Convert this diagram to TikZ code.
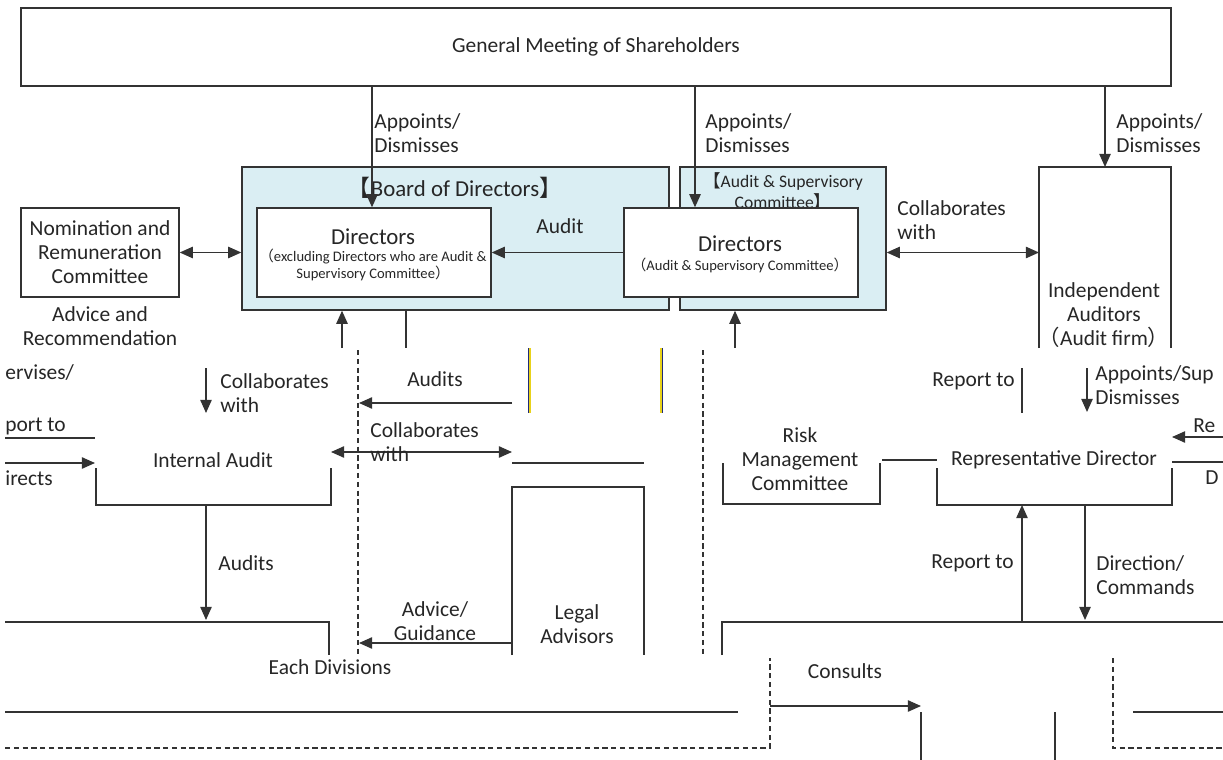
\documentclass[tikz,border=0pt]{standalone}
\usepackage{fontspec}
\setmainfont{Carlito}
\newfontfamily\cjk{Noto Sans CJK JP}
\usetikzlibrary{arrows.meta,fit,positioning}
\definecolor{boardblue}{HTML}{DAEEF3}
\definecolor{linec}{HTML}{333333}
\definecolor{txt}{HTML}{262626}
\definecolor{fringe}{HTML}{1F2A7A}
\definecolor{gold}{HTML}{E8D21A}
\newcommand{\notetxt}{\fontsize{8.3}{9.4}\selectfont}
\newcommand{\headtxt}{\fontsize{13}{15}\selectfont}

\begin{document}
\begin{tikzpicture}[x=0.02cm,y=-0.02cm,
  font=\fontsize{12.2}{13.6}\selectfont,
  box/.style={draw=linec,fill=white,line width=0.8pt,inner sep=0pt,align=center,text=txt},
  panel/.style={draw=linec,fill=boardblue,line width=0.8pt,inner sep=0pt},
  lbl/.style={inner sep=0pt,text=txt,align=left},
  wire/.style={draw=linec,line width=0.8pt},
  arr/.style={wire,-{Triangle[length=7.5pt,width=6.5pt]}},
  both/.style={wire,{Triangle[length=7.5pt,width=6.5pt]}-{Triangle[length=7.5pt,width=6.5pt]}},
  cut/.style={draw=linec,line width=0.6pt,dash pattern=on 3pt off 2pt}]

\useasboundingbox (0,0) rectangle (1223,760);

% top: shareholders, board and committees
\node[box,fit={(21,8) (1171,86)}] (gms) {};
\node[lbl] (gmstext) at (gms.center) {General Meeting of Shareholders};
\node[panel,fit={(242,167) (669,310)}] (board) {};
\node[panel,fit={(680,167) (886,310)}] (ascom) {};
\node[lbl] (boardtitle) at (455,188) {\headtxt{\cjk 【}Board of Directors{\cjk 】}};
\node[lbl,align=center,font=\fontsize{10}{12}\selectfont] (astitle) at (783,191) {{\cjk 【}Audit \& Supervisory\\Committee{\cjk 】}};
\node[box,fit={(257,208) (491,297)}] (dirs) {};
\node[lbl] (dirshead) at (373,237) {\headtxt Directors};
\node[lbl,align=center,font=\notetxt] (dirsnote) at (373,265) {{\cjk （}excluding Directors who are Audit \&\\Supervisory Committee{\cjk ）}};
\node[box,fit={(624,208) (858,297)}] (asdirs) {};
\node[lbl] (asdirshead) at (740,244) {\headtxt Directors};
\node[lbl,font=\notetxt] (asdirsnote) at (740,265) {{\cjk （}Audit \& Supervisory Committee{\cjk ）}};
\node[box,fit={(21,208) (179,297)}] (nrc) {};
\node[lbl,align=center] (nrctext) at (nrc.center) {Nomination and\\Remuneration\\Committee};
\node[lbl,align=center] (advice) at (100,326) {Advice and\\Recommendation};
\node[inner sep=0pt,outer sep=0pt,fit={(1039,167) (1171,348)}] (iabox) {};
\node[lbl,align=center] (iatext) at (1104,315) {Independent\\Auditors\\{\cjk （}Audit firm{\cjk ）}};
\draw[wire] (iabox.south west) -- (iabox.north west) -- (iabox.north east) -- (iabox.south east);

\draw[arr] (gms.south -| 372,0) -- (dirs.north -| 372,0);
\node[lbl,anchor=west] at (374,133) {Appoints/\\Dismisses};
\draw[arr] (gms.south -| 695,0) -- (asdirs.north -| 695,0);
\node[lbl,anchor=west] at (705,133) {Appoints/\\Dismisses};
\draw[arr] (gms.south -| iabox.north) -- (iabox.north);
\node[lbl,anchor=west] at (1116,133) {Appoints/\\Dismisses};
\draw[arr] (asdirs.west) -- (dirs.east);
\node[lbl] at (560,226) {Audit};
\draw[both] (nrc.east) -- (board.west |- nrc.east);
\draw[both] (ascom.east |- asdirs.east) -- (iabox.west |- asdirs.east);
\node[lbl,anchor=west] at (897,220) {Collaborates\\with};

% stubs below the board
\coordinate (s1) at (342,348);
\coordinate (s2) at (406,348);
\coordinate (s3) at (735,348);
\draw[arr] (s1) -- (board.south -| s1);
\draw[wire] (board.south -| s2) -- (s2);
\draw[arr] (s3) -- (ascom.south -| s3);

% lower left
\node[lbl,anchor=west] at (5,373) {ervises/};
\node[lbl,anchor=west] at (5,426) {port to};
\draw[wire] (5,438) -- (95,438);
\coordinate (dl) at (5,463);
\coordinate (dr) at (95,463);
\draw[arr] (dl) -- (dr);
\node[lbl,anchor=west] at (5,478) {irects};

\node[lbl] (iaudit) at (213,460) {Internal Audit};
\draw[wire] (96,468) -- (96,505) -- (331,505) -- (331,468);
\coordinate (c1) at (206,368);
\coordinate (c2) at (206,413);
\draw[arr] (c1) -- (c2);
\node[lbl,anchor=west] at (220,393) {Collaborates\\with};

\draw[cut] (358,350) -- (358,655);
\coordinate (au1) at (512,403);
\coordinate (au2) at (359,403);
\draw[arr] (au1) -- (au2);
\node[lbl] at (435,379) {Audits};
\coordinate (cw1) at (331,452);
\coordinate (cw2) at (512,452);
\draw[both] (cw1) -- (cw2);
\node[lbl,anchor=west] at (370,442) {Collaborates\\with};

\foreach \x/\s in {530/-1,661/1}{
  \draw[fringe,line width=0.7pt] (\x+\s,348) -- (\x+\s,413);
  \draw[gold,line width=0.8pt] (\x,348) -- (\x,413);
}
\draw[wire] (512,463) -- (644,463);

\draw[wire] (512,655) -- (512,487) -- (644,487) -- (644,655);
\node[lbl,align=center] (legal) at (577,624) {Legal\\Advisors};
\coordinate (ag1) at (512,643);
\coordinate (ag2) at (359,643);
\draw[arr] (ag1) -- (ag2);
\node[lbl,align=center] at (435,621) {Advice/\\Guidance};
\draw[cut] (703,350) -- (703,655);

\coordinate (ad1) at (206,505);
\coordinate (ad2) at (206,620);
\draw[arr] (ad1) -- (ad2);
\node[lbl,anchor=west] at (218,563) {Audits};
\draw[wire] (5,622) -- (329,622) -- (329,655);
\node[lbl] (divs) at (330,667) {Each Divisions};
\draw[wire] (5,712) -- (738,712);
\draw[cut] (5,748) -- (770,748) -- (770,658);
\coordinate (cs1) at (770,706);
\coordinate (cs2) at (921,706);
\draw[arr] (cs1) -- (cs2);
\node[lbl] at (845,671) {Consults};
\draw[wire] (921,712) -- (921,760);
\draw[wire] (1055,712) -- (1055,760);
\draw[cut] (1113,658) -- (1113,748) -- (1223,748);
\draw[wire] (1133,712) -- (1223,712);

% lower right
\draw[wire] (722,655) -- (722,622) -- (1223,622);
\node[lbl] (rep) at (1054,460) {Representative Director};
\draw[wire] (937,468) -- (937,505) -- (1172,505) -- (1172,468);
\coordinate (r1) at (1022,622);
\coordinate (r2) at (1022,505);
\draw[arr] (r1) -- (r2);
\node[lbl,anchor=east] at (1014,563) {Report to};
\coordinate (d1) at (1085,505);
\coordinate (d2) at (1085,620);
\draw[arr] (d1) -- (d2);
\node[lbl,anchor=west] at (1096,575) {Direction/\\Commands};
\draw[wire] (1172,462) -- (1223,462);
\node[lbl,anchor=west] at (1193,426) {Re};
\coordinate (re1) at (1223,437);
\coordinate (re2) at (1172,437);
\draw[arr] (re1) -- (re2);
\node[lbl,anchor=west] at (1205,478) {D};

\node[lbl,align=center] (risk) at (800,459) {Risk\\Management\\Committee};
\draw[wire] (723,463) -- (723,504) -- (880,504) -- (880,463);
\draw[wire] (882,460) -- (937,460);

\draw[wire] (1022,368) -- (1022,413);
\node[lbl,anchor=east] at (1015,381) {Report to};
\coordinate (ap1) at (1087,368);
\coordinate (ap2) at (1087,412);
\draw[arr] (ap1) -- (ap2);
\node[lbl,anchor=west] at (1095,385) {Appoints/Sup\\Dismisses};
\end{tikzpicture}
\end{document}
